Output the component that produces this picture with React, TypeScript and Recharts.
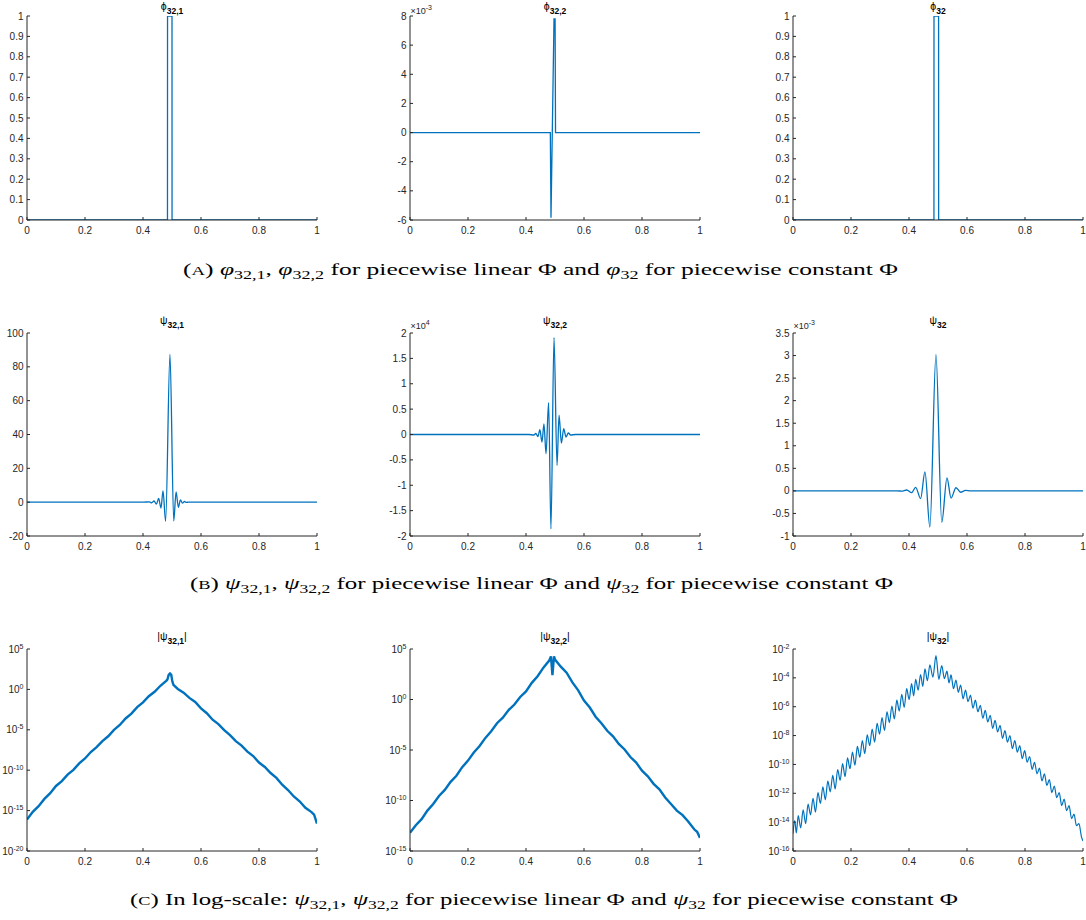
import React from 'react';
import { LineChart, Line, XAxis, YAxis } from 'recharts';

const SANS = '"Liberation Sans", Arial, Helvetica, "DejaVu Sans", sans-serif';
const SERIF = '"Liberation Serif", "DejaVu Serif", serif';
const AXIS = '#262626';
const BLUE = '#0072BD';

// ---------- ticks ----------
const xTicks = [0, 0.2, 0.4, 0.6, 0.8, 1];
const ticksUnit = [0, 0.1, 0.2, 0.3, 0.4, 0.5, 0.6, 0.7, 0.8, 0.9, 1];
const ticksPhi322 = [-0.006, -0.004, -0.002, 0, 0.002, 0.004, 0.006, 0.008];
const ticksPsi321 = [-20, 0, 20, 40, 60, 80, 100];
const ticksPsi322 = [-20000, -15000, -10000, -5000, 0, 5000, 10000, 15000, 20000];
const ticksPsi32 = [-0.001, -0.0005, 0, 0.0005, 0.001, 0.0015, 0.002, 0.0025, 0.003, 0.0035];
const ticksAbs321 = [1e-20, 1e-15, 1e-10, 1e-5, 1, 1e5];
const ticksAbs322 = [1e-15, 1e-10, 1e-5, 1, 1e5];
const ticksAbs32 = [1e-16, 1e-14, 1e-12, 1e-10, 1e-8, 1e-6, 1e-4, 1e-2];

// ---------- (A) scaling functions: [x, value] ----------
const phi321: [number, number][] = [[0, 0], [0.4844, 0], [0.4846, 1], [0.5, 1], [0.5002, 0], [1, 0]];
const phi322: [number, number][] = [[0, 0], [0.4839, 0], [0.4862, -0.00585], [0.4966, 0.0078], [0.5003, 0.0078], [0.5018, 0], [1, 0]];
const phi32: [number, number][] = [[0, 0], [0.486, 0], [0.4862, 1], [0.502, 1], [0.5022, 0], [1, 0]];

// ---------- (B) wavelets: [x, value] ----------
const psi321: [number, number][] = [
  [0, 0], [0.4, 0], [0.422, 0.2], [0.43, -0.4], [0.438, 0.7], [0.446, -1.2], [0.454, 2.2], [0.462, -3.5],
  [0.469, 6.7], [0.478, -11.3], [0.493, 87.3], [0.506, -11.2], [0.514, 6.1], [0.522, -3.0], [0.529, 1.4],
  [0.536, -0.6], [0.543, 0.4], [0.55, -0.15], [0.557, 0.05], [0.575, 0], [1, 0],
];
const psi322: [number, number][] = [
  [0, 0], [0.41, 0], [0.427, -100], [0.434, 200], [0.441, -400], [0.448, 950], [0.455, -1500], [0.462, 2100],
  [0.469, -3800], [0.478, 6300], [0.486, -18600], [0.4966, 19100], [0.507, -6100], [0.514, 3800],
  [0.522, -1700], [0.53, 1150], [0.538, -500], [0.546, 300], [0.554, -100], [0.57, 0], [1, 0],
];
const psi32: [number, number][] = [
  [0, 0], [0.36, 0], [0.375, -0.000005], [0.392, 0.00002], [0.409, -0.00004], [0.423, 0.00008],
  [0.44, -0.00017], [0.455, 0.00042], [0.472, -0.0008], [0.493, 0.00302], [0.513, -0.0007],
  [0.531, 0.00029], [0.545, -0.00016], [0.562, 0.00007], [0.578, -0.00003], [0.595, 0.00001],
  [0.612, 0], [1, 0],
];

// ---------- (C) |wavelets| in log scale: [x, log10 value] ----------
const absPsi321Exp: [number, number][] = [
  [0, -16.1], [0.02, -15.15], [0.04, -14.45], [0.06, -13.55], [0.08, -12.85], [0.1, -11.95], [0.12, -11.35],
  [0.14, -10.55], [0.16, -9.95], [0.18, -9.15], [0.2, -8.55], [0.22, -7.75], [0.24, -7.15], [0.26, -6.4],
  [0.28, -5.8], [0.3, -5.01], [0.32, -4.4], [0.34, -3.6], [0.36, -3.0], [0.38, -2.2], [0.4, -1.61],
  [0.42, -0.85], [0.44, -0.3], [0.46, 0.45], [0.48, 1.05], [0.484, 1.2], [0.4885, 1.8], [0.493, 1.97],
  [0.4975, 1.8], [0.501, 1.0], [0.505, 0.55], [0.52, 0.05], [0.54, -0.4], [0.56, -1.05], [0.58, -1.55],
  [0.6, -2.35], [0.62, -2.95], [0.64, -3.75], [0.66, -4.3], [0.68, -5.05], [0.7, -5.65], [0.72, -6.4],
  [0.74, -6.95], [0.76, -7.7], [0.78, -8.25], [0.8, -9.05], [0.82, -9.6], [0.84, -10.35], [0.86, -10.95],
  [0.88, -11.8], [0.9, -12.45], [0.92, -13.25], [0.94, -13.85], [0.96, -14.65], [0.98, -15.15],
  [0.99, -15.5], [1, -16.6],
];
const absPsi322Exp: [number, number][] = [
  [0, -13.2], [0.02, -12.45], [0.04, -11.85], [0.06, -11.0], [0.08, -10.35], [0.1, -9.55], [0.12, -8.95],
  [0.14, -8.15], [0.16, -7.55], [0.18, -6.7], [0.2, -6.05], [0.22, -5.25], [0.24, -4.6], [0.26, -3.8],
  [0.28, -3.15], [0.3, -2.35], [0.32, -1.8], [0.34, -1.05], [0.36, -0.5], [0.38, 0.25], [0.4, 0.8],
  [0.42, 1.65], [0.44, 2.3], [0.46, 3.15], [0.48, 3.85], [0.486, 4.27], [0.4912, 2.4], [0.4966, 4.28],
  [0.5, 3.95], [0.52, 3.25], [0.54, 2.65], [0.56, 1.7], [0.58, 0.9], [0.6, -0.1], [0.62, -0.8],
  [0.64, -1.7], [0.66, -2.35], [0.68, -3.1], [0.7, -3.65], [0.72, -4.4], [0.74, -4.95], [0.76, -5.7],
  [0.78, -6.25], [0.8, -7.05], [0.82, -7.6], [0.84, -8.35], [0.86, -8.9], [0.88, -9.7], [0.9, -10.35],
  [0.92, -11.0], [0.94, -11.45], [0.96, -12.1], [0.98, -12.85], [0.99, -13.1], [1, -13.7],
];
const absPsi32Exp: [number, number][] = [
  [0, -14.8], [0.006, -13.9], [0.0115, -14.75], [0.018, -13.55], [0.0265, -14.4], [0.035, -13.15],
  [0.0435, -14.1], [0.052, -12.75], [0.0605, -13.5], [0.069, -12.35], [0.0775, -13.3], [0.086, -11.95],
  [0.0945, -12.7], [0.103, -11.55], [0.1115, -12.45], [0.12, -11.15], [0.1285, -11.9], [0.137, -10.75],
  [0.1455, -11.7], [0.154, -10.35], [0.1625, -11.1], [0.171, -9.95], [0.1795, -10.85], [0.188, -9.55],
  [0.1965, -10.3], [0.205, -9.15], [0.2135, -10.05], [0.222, -8.75], [0.2305, -9.5], [0.239, -8.35],
  [0.2475, -9.25], [0.256, -7.95], [0.2645, -8.7], [0.273, -7.55], [0.2815, -8.45], [0.29, -7.15],
  [0.2985, -7.9], [0.307, -6.75], [0.3155, -7.65], [0.324, -6.35], [0.3325, -7.1], [0.341, -5.95],
  [0.3495, -6.85], [0.358, -5.55], [0.3665, -6.3], [0.375, -5.15], [0.3835, -6.05], [0.392, -4.75],
  [0.4005, -5.5], [0.409, -4.4], [0.416, -5.25], [0.423, -4.1], [0.4315, -4.85], [0.44, -3.77],
  [0.4475, -4.6], [0.455, -3.38], [0.4635, -4.2], [0.472, -3.1], [0.4825, -3.95], [0.493, -2.46],
  [0.503, -4.1], [0.513, -3.15], [0.522, -4.05], [0.531, -3.54], [0.538, -4.35], [0.545, -3.8],
  [0.5535, -4.75], [0.562, -4.15], [0.57, -5.0], [0.578, -4.5], [0.5865, -5.45], [0.595, -4.85],
  [0.6035, -5.65], [0.612, -5.2], [0.6205, -6.1], [0.629, -5.55], [0.6375, -6.35], [0.646, -5.9],
  [0.6545, -6.8], [0.663, -6.25], [0.6715, -7.05], [0.68, -6.6], [0.6885, -7.5], [0.697, -6.95],
  [0.7055, -7.75], [0.714, -7.3], [0.7225, -8.2], [0.731, -7.65], [0.7395, -8.45], [0.748, -8.0],
  [0.7565, -8.9], [0.765, -8.35], [0.7735, -9.15], [0.782, -8.7], [0.7905, -9.6], [0.799, -9.05],
  [0.8075, -9.85], [0.816, -9.45], [0.8245, -10.35], [0.833, -9.85], [0.8415, -10.65], [0.85, -10.25],
  [0.8585, -11.15], [0.867, -10.65], [0.8755, -11.45], [0.884, -11.05], [0.8925, -11.95], [0.901, -11.5],
  [0.9095, -12.3], [0.918, -11.95], [0.9265, -12.85], [0.935, -12.4], [0.9435, -13.2], [0.952, -12.85],
  [0.9605, -13.75], [0.969, -13.45], [0.9775, -14.25], [0.986, -14.1], [0.9945, -15.0], [1, -15.3],
];

// ---------- layout ----------
const PW = 290;
const YW = 60;
const MR = 4;
const MT = 12;
const XH = 24;
const COLS = [27, 410, 793];
const ROW_A = { top: 16, h: 204 };
const ROW_B = { top: 333, h: 203 };
const ROW_C = { top: 649, h: 202 };

const fmtX = (v: number) => String(v);
const fmtPlain = (v: number) => String(v);
const fmtMilli = (v: number) => String(Math.round(v * 1e4) / 10);
const fmtE4 = (v: number) => String(v / 1e4);

const tickStyle = { fontSize: 10, fill: AXIS, fontFamily: SANS };

const NoTick = () => <g />;

const LogTick = (p: any) => {
  const e = Math.round(Math.log10(p.payload.value));
  return (
    <text x={p.x} y={p.y} textAnchor="end" fontFamily={SANS} fontSize={10} fill={AXIS}>
      <tspan dy={3.6}>10</tspan>
      <tspan dy={-4} fontSize={7}>{String(e)}</tspan>
    </text>
  );
};
const renderLogTick = (p: any) => <LogTick {...p} />;

type PlotProps = {
  left: number;
  top: number;
  h: number;
  pts: [number, number][];
  dom: [number, number];
  ticks: number[];
  fmt?: (v: number) => string;
  log?: boolean;
  curve: 'linear' | 'monotone';
  sw: number;
};

function Plot({ left, top, h, pts, dom, ticks, fmt, log, curve, sw }: PlotProps) {
  const data = pts.map(([x, y]) => ({ x, y: log ? Math.pow(10, y) : y }));
  const scale = log ? 'log' : 'linear';
  return (
    <div style={{ position: 'absolute', left: left - YW, top: top - MT }}>
      <LineChart
        width={YW + PW + MR}
        height={MT + h + XH}
        data={data}
        margin={{ top: MT, right: MR, bottom: 0, left: 0 }}
      >
        <XAxis
          xAxisId="b"
          dataKey="x"
          type="number"
          domain={[0, 1]}
          ticks={xTicks}
          tickFormatter={fmtX}
          height={XH}
          tickSize={-3}
          tickMargin={10}
          stroke={AXIS}
          tick={tickStyle}
          interval={0}
          allowDataOverflow
        />
        <XAxis
          xAxisId="t"
          orientation="top"
          dataKey="x"
          type="number"
          domain={[0, 1]}
          ticks={xTicks}
          height={0}
          tickSize={-3}
          stroke={AXIS}
          tick={NoTick}
          interval={0}
          allowDataOverflow
        />
        <YAxis
          yAxisId="l"
          width={YW}
          type="number"
          scale={scale}
          domain={dom}
          ticks={ticks}
          allowDataOverflow
          interval={0}
          stroke={AXIS}
          tickSize={-3}
          tickMargin={6.5}
          tick={log ? renderLogTick : tickStyle}
          tickFormatter={log ? undefined : fmt}
        />
        <YAxis
          yAxisId="r"
          orientation="right"
          width={0}
          type="number"
          scale={scale}
          domain={dom}
          ticks={ticks}
          allowDataOverflow
          interval={0}
          stroke={AXIS}
          tickSize={-3}
          tick={NoTick}
        />
        <Line
          xAxisId="b"
          yAxisId="l"
          dataKey="y"
          type={curve}
          stroke={BLUE}
          strokeWidth={sw}
          dot={false}
          isAnimationActive={false}
        />
      </LineChart>
    </div>
  );
}

function Title({ cx, y, sym, sub, bars }: { cx: number; y: number; sym: string; sub: string; bars?: boolean }) {
  return (
    <text x={cx} y={y} textAnchor="middle" fontFamily={SANS} fontSize={10.5} fill="#000">
      {bars ? '|' : ''}
      {sym}
      <tspan dy={3.5} fontSize={8.5} fontWeight="bold">{sub}</tspan>
      {bars ? <tspan dy={-3.5}>|</tspan> : null}
    </text>
  );
}

function Exp({ x, y, e }: { x: number; y: number; e: string }) {
  return (
    <text x={x} y={y} fontFamily={SANS} fontSize={9} fill={AXIS}>
      ×10
      <tspan dy={-4} fontSize={7}>{e}</tspan>
    </text>
  );
}

function Caption({ x, y, len, tag, lead, sym }: { x: number; y: number; len: number; tag: string; lead: string; sym: string }) {
  return (
    <text x={x} y={y} fontFamily={SERIF} fontSize={17} fill="#000" textLength={len} lengthAdjust="spacingAndGlyphs">
      {'('}
      <tspan fontSize={12.5}>{tag}</tspan>
      {')' + lead}
      <tspan fontStyle="italic">{sym}</tspan>
      <tspan dy={4} fontSize={12}>{'32,1'}</tspan>
      <tspan dy={-4}>{', '}</tspan>
      <tspan fontStyle="italic">{sym}</tspan>
      <tspan dy={4} fontSize={12}>{'32,2'}</tspan>
      <tspan dy={-4}>{' for piecewise linear Φ and '}</tspan>
      <tspan fontStyle="italic">{sym}</tspan>
      <tspan dy={4} fontSize={12}>{'32'}</tspan>
      <tspan dy={-4}>{' for piecewise constant Φ'}</tspan>
    </text>
  );
}

export default function App() {
  return (
    <div
      style={{
        position: 'absolute',
        left: 0,
        top: 0,
        width: 1086,
        height: 920,
        overflow: 'hidden',
        background: '#fff',
      }}
    >
      {/* Row A */}
      <Plot left={COLS[0]} top={ROW_A.top} h={ROW_A.h} pts={phi321} dom={[0, 1]} ticks={ticksUnit} fmt={fmtPlain} curve="linear" sw={1.3} />
      <Plot left={COLS[1]} top={ROW_A.top} h={ROW_A.h} pts={phi322} dom={[-0.006, 0.008]} ticks={ticksPhi322} fmt={fmtMilli} curve="linear" sw={1.3} />
      <Plot left={COLS[2]} top={ROW_A.top} h={ROW_A.h} pts={phi32} dom={[0, 1]} ticks={ticksUnit} fmt={fmtPlain} curve="linear" sw={1.3} />
      {/* Row B */}
      <Plot left={COLS[0]} top={ROW_B.top} h={ROW_B.h} pts={psi321} dom={[-20, 100]} ticks={ticksPsi321} fmt={fmtPlain} curve="monotone" sw={1.3} />
      <Plot left={COLS[1]} top={ROW_B.top} h={ROW_B.h} pts={psi322} dom={[-20000, 20000]} ticks={ticksPsi322} fmt={fmtE4} curve="monotone" sw={1.3} />
      <Plot left={COLS[2]} top={ROW_B.top} h={ROW_B.h} pts={psi32} dom={[-0.001, 0.0035]} ticks={ticksPsi32} fmt={fmtMilli} curve="monotone" sw={1.3} />
      {/* Row C */}
      <Plot left={COLS[0]} top={ROW_C.top} h={ROW_C.h} pts={absPsi321Exp} dom={[1e-20, 1e5]} ticks={ticksAbs321} log curve="linear" sw={2.4} />
      <Plot left={COLS[1]} top={ROW_C.top} h={ROW_C.h} pts={absPsi322Exp} dom={[1e-15, 1e5]} ticks={ticksAbs322} log curve="linear" sw={2.4} />
      <Plot left={COLS[2]} top={ROW_C.top} h={ROW_C.h} pts={absPsi32Exp} dom={[1e-16, 1e-2]} ticks={ticksAbs32} log curve="monotone" sw={1.2} />

      <svg
        width={1086}
        height={920}
        style={{ position: 'absolute', left: 0, top: 0, pointerEvents: 'none' }}
      >
        {/* subplot titles */}
        <Title cx={COLS[0] + PW / 2} y={10} sym="ϕ" sub="32,1" />
        <Title cx={COLS[1] + PW / 2} y={10} sym="ϕ" sub="32,2" />
        <Title cx={COLS[2] + PW / 2} y={10} sym="ϕ" sub="32" />
        <Title cx={COLS[0] + PW / 2} y={324} sym="ψ" sub="32,1" />
        <Title cx={COLS[1] + PW / 2} y={324} sym="ψ" sub="32,2" />
        <Title cx={COLS[2] + PW / 2} y={324} sym="ψ" sub="32" />
        <Title cx={COLS[0] + PW / 2} y={640} sym="ψ" sub="32,1" bars />
        <Title cx={COLS[1] + PW / 2} y={640} sym="ψ" sub="32,2" bars />
        <Title cx={COLS[2] + PW / 2} y={640} sym="ψ" sub="32" bars />

        {/* exponent multipliers */}
        <Exp x={COLS[1] + 0.5} y={14} e="-3" />
        <Exp x={COLS[1] + 0.5} y={329} e="4" />
        <Exp x={COLS[2] + 0.5} y={329} e="-3" />

        {/* captions */}
        <Caption x={183} y={275} len={715} tag="A" lead=" " sym="φ" />
        <Caption x={190} y={589} len={703} tag="B" lead=" " sym="ψ" />
        <Caption x={130} y={905} len={828} tag="C" lead=" In log-scale: " sym="ψ" />
      </svg>
    </div>
  );
}
